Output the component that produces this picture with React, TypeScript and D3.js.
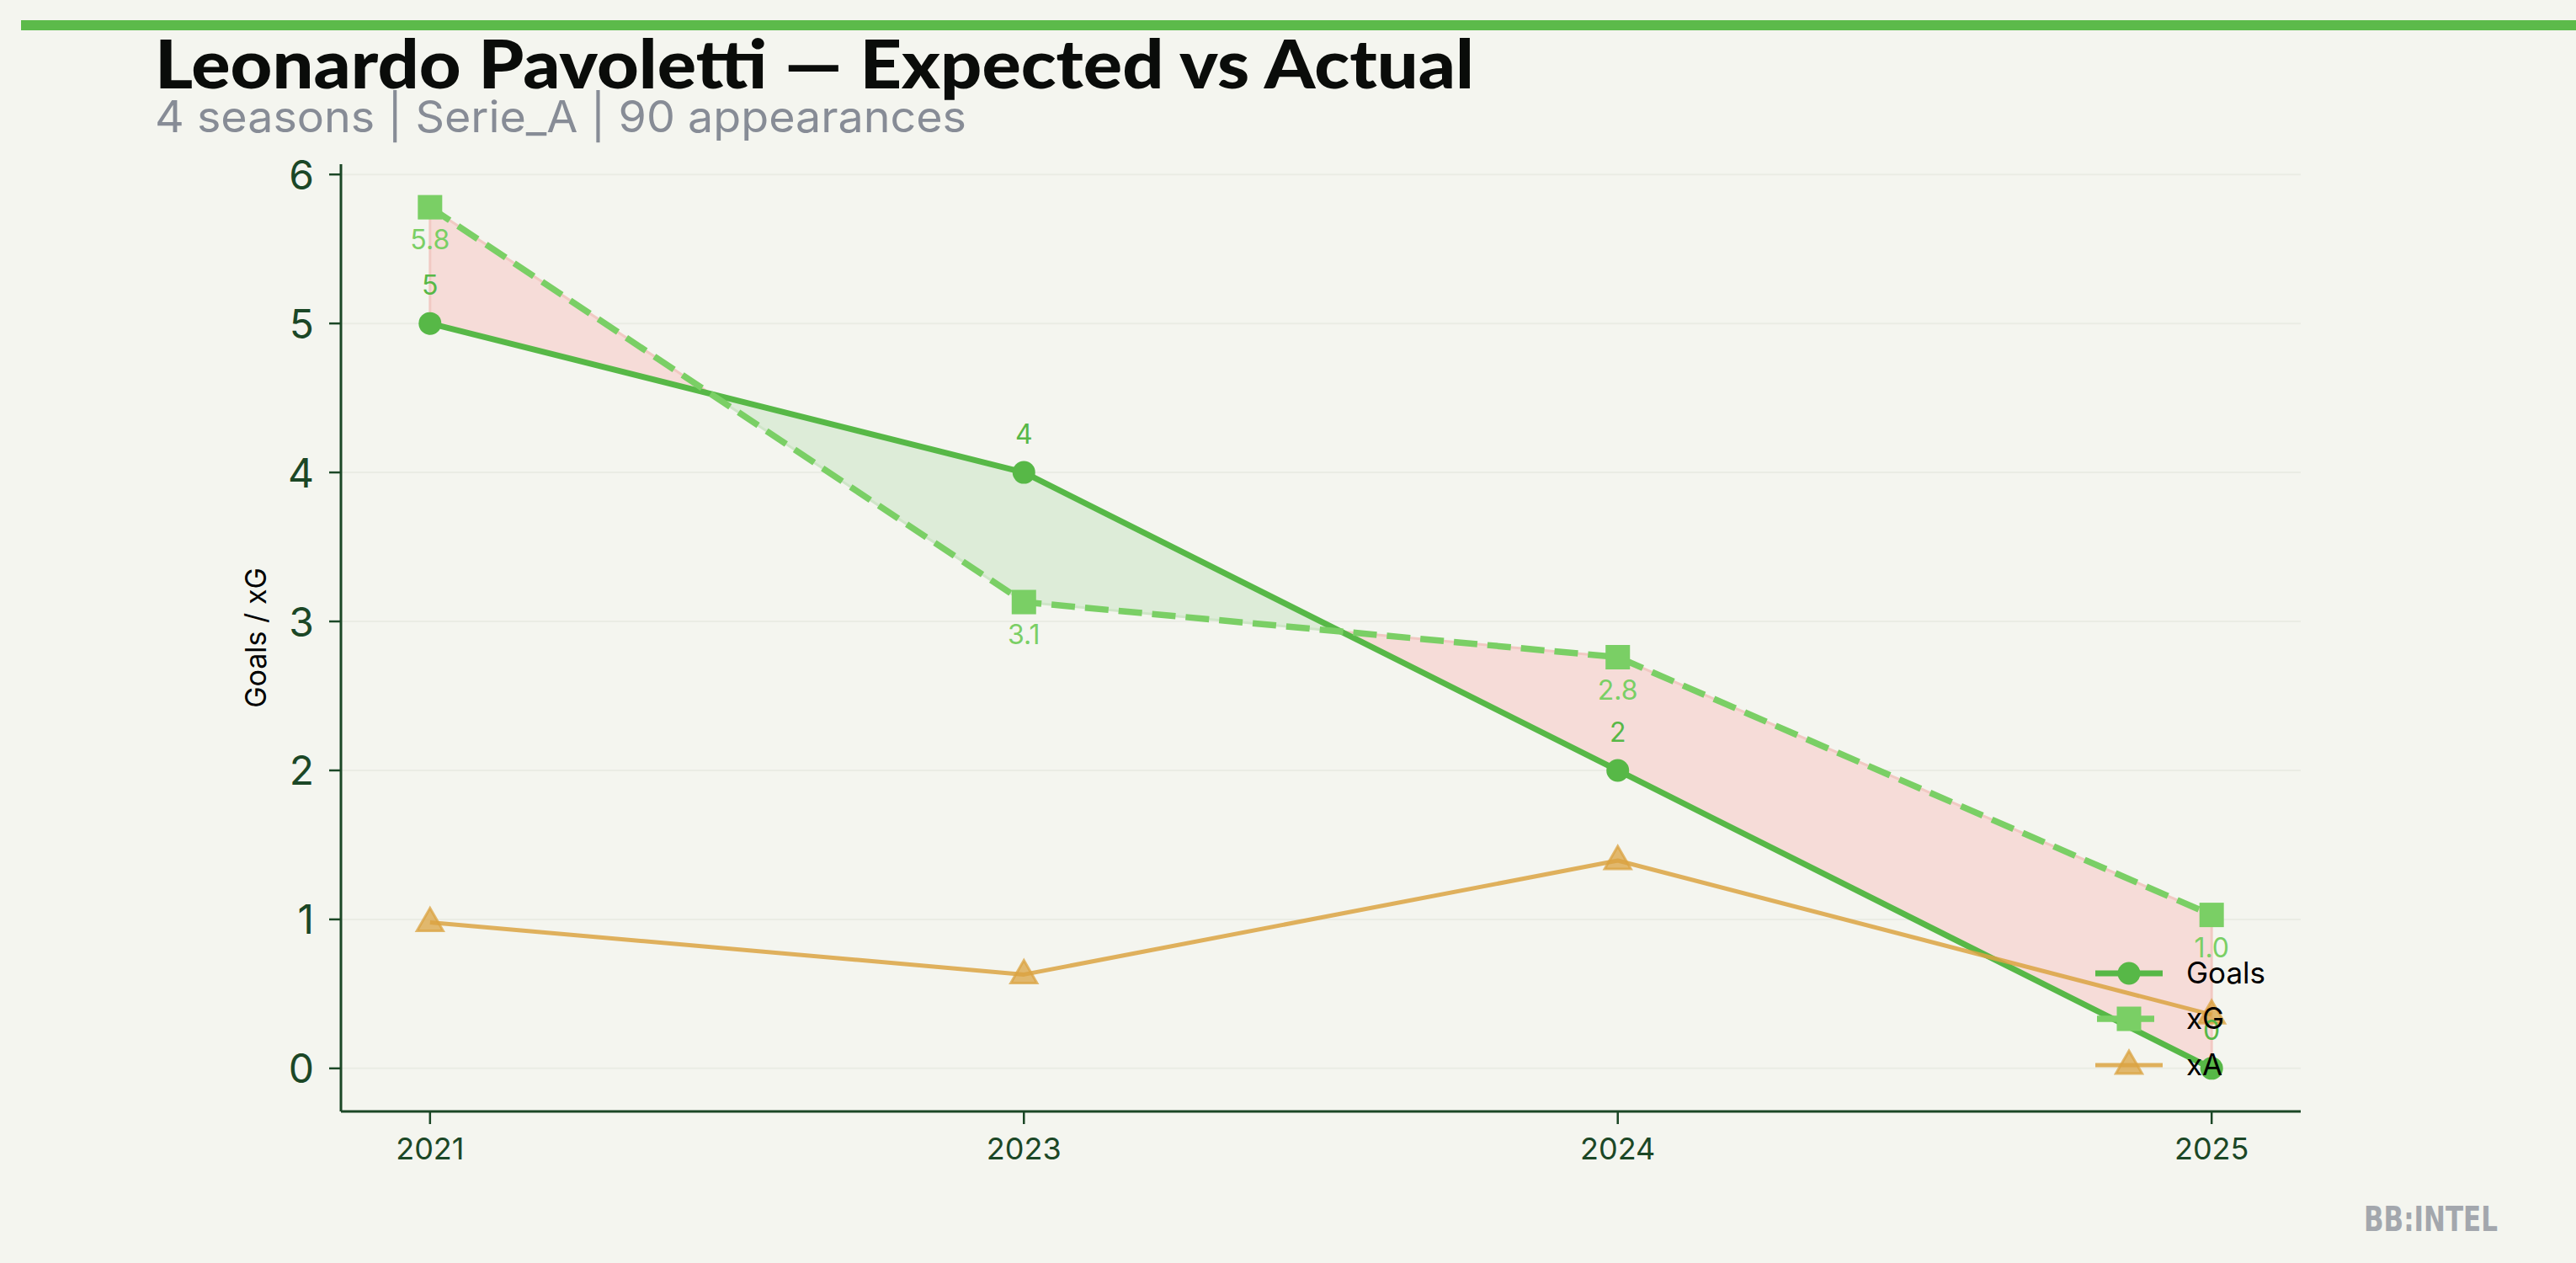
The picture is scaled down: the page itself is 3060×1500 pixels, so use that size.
// Expected vs actual line chart — goals, xG and xA per season, with the
// goals/xG gap shaded (pink = under xG, green = over xG).

import * as d3 from "d3";

const seasons = ["2021", "2023", "2024", "2025"];
const goals = [5, 4, 2, 0];
const xg = [5.78, 3.13, 2.76, 1.03];
const xa = [0.98, 0.63, 1.395, 0.36];
const yTicks = [0, 1, 2, 3, 4, 5, 6];
const legendItems = ["Goals", "xG", "xA"];

const W = 3060, H = 1500;
const L = 405, R = 2733, T = 195, B = 1320;
const BG = "#f4f5ef";
const INK = "#1b4726";
const C_GOALS = "#57b847";
const C_XG = "#7acf65";
const C_XA = "#dba342";
const FONT = "Inter, 'Noto Sans', sans-serif";

type Pt = { x: number; g: number; e: number };

// split the goals/xG band into runs of equal sign, inserting the crossings
function bandRuns(): { over: boolean; pts: Pt[] }[] {
  const runs: { over: boolean; pts: Pt[] }[] = [];
  let cur: Pt[] = [];
  let sign = xg[0] - goals[0] >= 0;
  for (let i = 0; i < seasons.length; i++) {
    const p = { x: i, g: goals[i], e: xg[i] };
    if (i > 0) {
      const d0 = xg[i - 1] - goals[i - 1], d1 = xg[i] - goals[i];
      if ((d0 >= 0) !== (d1 >= 0)) {
        const t = d0 / (d0 - d1);
        const c = { x: i - 1 + t, g: goals[i - 1] + t * (goals[i] - goals[i - 1]), e: 0 };
        c.e = c.g;
        cur.push(c);
        runs.push({ over: sign, pts: cur });
        cur = [c];
        sign = d1 >= 0;
      }
    }
    cur.push(p);
  }
  runs.push({ over: sign, pts: cur });
  return runs;
}

export default function App() {
  const x = d3.scalePoint<string>().domain(seasons).range([L, R]).padding(0.15);
  const lo = Math.min(0, ...goals, ...xg, ...xa), hi = Math.max(...goals, ...xg, ...xa);
  const m = (hi - lo) * 0.05;
  const y = d3.scaleLinear().domain([lo - m, hi + m]).range([B, T]);
  const xi = (i: number) => (x(seasons[0]) as number) + i * x.step();

  const line = d3.line<number>().x((_, i) => x(seasons[i]) as number).y((v) => y(v));
  const band = d3.area<Pt>().x((p) => xi(p.x)).y0((p) => y(p.g)).y1((p) => y(p.e));
  const tri = d3.symbol().type(d3.symbolTriangle).size(420);

  const legendY = [1156, 1210, 1265];
  const lx0 = 2489, lx1 = 2569, lmx = 2529;

  return (
    <svg width={W} height={H} viewBox={`0 0 ${W} ${H}`}
         style={{ position: "absolute", left: 0, top: 0, background: BG }}>
      <rect width={W} height={H} fill={BG} />
      <rect x={25} y={24} width={W - 25} height={12} fill="#5cba4a" />

      <text x={184} y={105} fontFamily="Lato, 'DejaVu Sans', sans-serif" fontWeight={900}
            fontSize={80} fill="#0a0c0a" textLength={1567} lengthAdjust="spacingAndGlyphs">
        Leonardo Pavoletti — Expected vs Actual
      </text>
      <text x={184} y={157} fontFamily={FONT} fontSize={52} fill="#878c96"
            textLength={964} lengthAdjust="spacingAndGlyphs">
        4 seasons | Serie_A | 90 appearances
      </text>

      {/* grid */}
      {yTicks.map((t) => (
        <line key={t} x1={L} x2={R} y1={y(t)} y2={y(t)} stroke="#eaece4" strokeWidth={2} />
      ))}

      {/* shaded gap */}
      {bandRuns().map((r, i) => (
        <path key={i} d={band(r.pts) ?? ""}
              fill={r.over ? "#f6dcd8" : "#ddecd8"}
              stroke={r.over ? "#f1c9c3" : "#cfe5c8"} strokeWidth={3} strokeLinejoin="round" />
      ))}

      {/* goals */}
      <path d={line(goals) ?? ""} fill="none" stroke={C_GOALS} strokeWidth={7} strokeLinejoin="round" />
      {goals.map((v, i) => (
        <circle key={i} cx={x(seasons[i])} cy={y(v)} r={13.5} fill={C_GOALS} />
      ))}

      {/* xG */}
      <path d={line(xg) ?? ""} fill="none" stroke={C_XG} strokeWidth={7.5} strokeDasharray="28 12" />
      {xg.map((v, i) => (
        <rect key={i} x={(x(seasons[i]) as number) - 14.5} y={y(v) - 14.5} width={29} height={29} fill={C_XG} />
      ))}

      {/* xA */}
      <path d={line(xa) ?? ""} fill="none" stroke={C_XA} strokeOpacity={0.85} strokeWidth={5} strokeLinejoin="round" />
      {xa.map((v, i) => (
        <path key={i} d={tri() ?? ""} transform={`translate(${x(seasons[i])},${y(v) + 1})`}
              fill={C_XA} fillOpacity={0.75} stroke={C_XA} strokeOpacity={0.75} strokeWidth={3} />
      ))}

      {/* value labels */}
      {goals.map((v, i) => (
        <text key={"g" + i} x={x(seasons[i])} y={y(v) - 34} textAnchor="middle"
              fontFamily={FONT} fontSize={32} fill={C_GOALS}>{String(v)}</text>
      ))}
      {xg.map((v, i) => (
        <text key={"e" + i} x={x(seasons[i])} y={y(v) + 50} textAnchor="middle"
              fontFamily={FONT} fontSize={32} fill={C_XG}>{v.toFixed(1)}</text>
      ))}

      {/* axes */}
      <line x1={L} x2={L} y1={T} y2={B} stroke={INK} strokeWidth={3} />
      <line x1={L} x2={R} y1={B} y2={B} stroke={INK} strokeWidth={3} />
      {yTicks.map((t) => (
        <g key={t}>
          <line x1={L - 14} x2={L} y1={y(t)} y2={y(t)} stroke={INK} strokeWidth={2.5} />
          <text x={373} y={y(t)} textAnchor="end" dominantBaseline="central"
                fontFamily={FONT} fontSize={48} fill={INK}>{t}</text>
        </g>
      ))}
      {seasons.map((s) => (
        <g key={s}>
          <line x1={x(s)} x2={x(s)} y1={B} y2={B + 15} stroke={INK} strokeWidth={2.5} />
          <text x={x(s)} y={1377} textAnchor="middle" fontFamily={FONT} fontSize={36} fill={INK}>{s}</text>
        </g>
      ))}
      <text transform={`translate(316,${(T + B) / 2}) rotate(-90)`} textAnchor="middle"
            fontFamily={FONT} fontSize={34} fill="#000">Goals / xG</text>

      {/* legend */}
      {legendItems.map((name, i) => {
        const ly = legendY[i];
        return (
          <g key={name}>
            {name === "Goals" && (<>
              <line x1={lx0} x2={lx1} y1={ly} y2={ly} stroke={C_GOALS} strokeWidth={7} />
              <circle cx={lmx} cy={ly} r={13.5} fill={C_GOALS} />
            </>)}
            {name === "xG" && (<>
              <line x1={lx0} x2={lx1} y1={ly} y2={ly} stroke={C_XG} strokeWidth={7.5} strokeDasharray="28 12" strokeDashoffset={-2} />
              <rect x={lmx - 14.5} y={ly - 14.5} width={29} height={29} fill={C_XG} />
            </>)}
            {name === "xA" && (<>
              <line x1={lx0} x2={lx1} y1={ly} y2={ly} stroke={C_XA} strokeOpacity={0.85} strokeWidth={5} />
              <path d={tri() ?? ""} transform={`translate(${lmx},${ly + 1})`}
                    fill={C_XA} fillOpacity={0.75} stroke={C_XA} strokeOpacity={0.75} strokeWidth={3} />
            </>)}
            <text x={2597} y={ly + 12} fontFamily={FONT} fontSize={35} fill="#000">{name}</text>
          </g>
        );
      })}

      <text x={2808} y={1462} fontFamily="'Liberation Sans Narrow', 'DejaVu Sans Condensed', sans-serif"
            fontWeight={700} fontSize={40} fill="#a3a7ad" textLength={159} lengthAdjust="spacingAndGlyphs">
        BB:INTEL
      </text>
    </svg>
  );
}
